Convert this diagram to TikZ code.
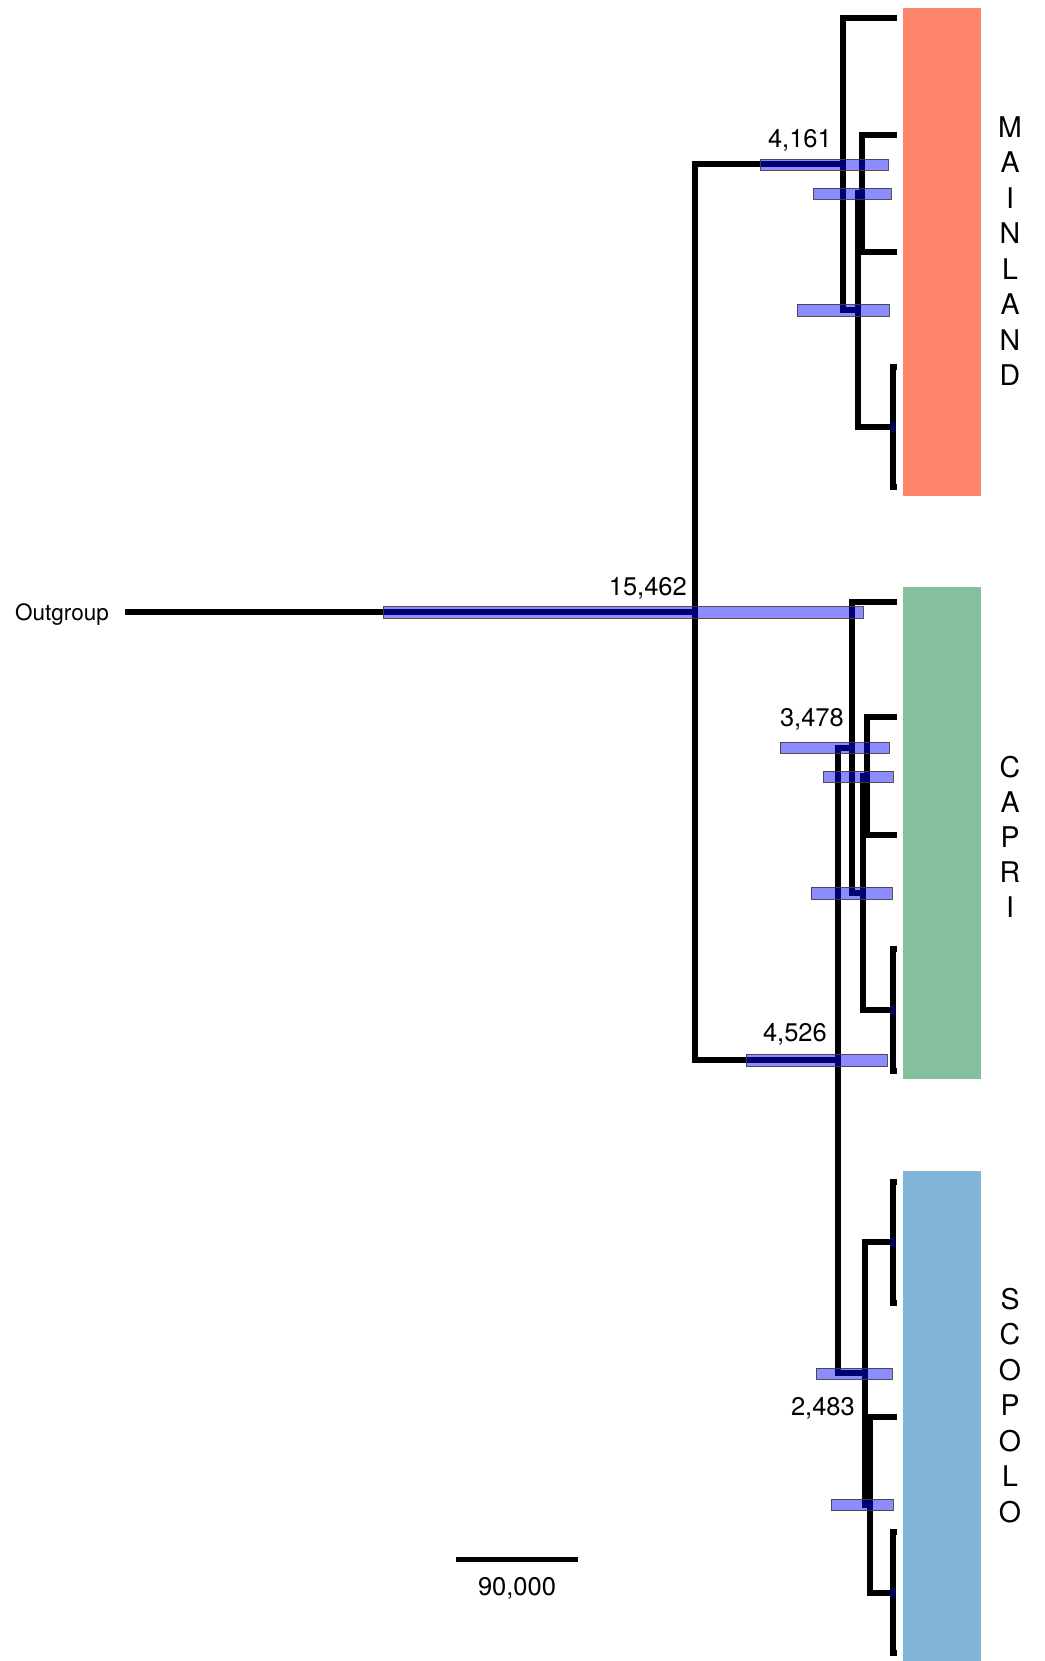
\documentclass[tikz,border=0pt]{standalone}
\usepackage{fontspec}
\setmainfont{TeX Gyre Heros}
\definecolor{mainfill}{RGB}{255,133,106}
\definecolor{caprifill}{RGB}{131,192,155}
\definecolor{scopfill}{RGB}{130,180,216}
\begin{document}
\begin{tikzpicture}[x=1pt,y=-1pt,
  branch/.style={line width=5.2pt, line join=miter, line cap=butt},
  hpd/.style={fill=blue, fill opacity=0.45, draw=black!75, draw opacity=0.9, line width=0.8pt},
  hpdtiny/.style={fill=blue, fill opacity=0.45},
  num/.style={font=\fontsize{25.5}{30}\selectfont, inner sep=0pt},
  clade/.style={font=\fontsize{28.5}{35.5}\selectfont, align=center, inner sep=0pt}]
\useasboundingbox (0,0) rectangle (1044,1661);

% clade colour bands
\fill[mainfill] (903,8) rectangle (981,496);
\fill[caprifill] (903,587) rectangle (981,1079);
\fill[scopfill] (903,1171) rectangle (981,1661);

% tree coordinates
\coordinate (root) at (695,612);
\coordinate (og) at (125,612);
% mainland
\coordinate (mN1) at (843,164);
\coordinate (mL1) at (897,18);
\coordinate (mN2) at (858,310);
\coordinate (mN3) at (862,193);
\coordinate (mL2) at (897,135);
\coordinate (mL3) at (897,252);
\coordinate (mN4) at (893,427);
\coordinate (mL4) at (897,367);
\coordinate (mL5) at (897,487);
% capri
\coordinate (cs) at (838,1060);
\coordinate (cN1) at (852,748);
\coordinate (cL1) at (897,602);
\coordinate (cN2) at (863,893);
\coordinate (cN3) at (867,776);
\coordinate (cL2) at (897,717);
\coordinate (cL3) at (897,835);
\coordinate (cN4) at (893,1010);
\coordinate (cL4) at (897,949);
\coordinate (cL5) at (897,1071);
% scopolo
\coordinate (sN1) at (865,1373);
\coordinate (sN2) at (893,1242);
\coordinate (sL1) at (897,1182);
\coordinate (sL2) at (897,1303);
\coordinate (sN3) at (870,1505);
\coordinate (sL3) at (897,1417);
\coordinate (sN4) at (893,1593);
\coordinate (sL4) at (897,1532);
\coordinate (sL5) at (897,1653);

% branches
\draw[branch] (og) -- (root);
\foreach \p/\c in {root/mN1, root/cs, mN1/mL1, mN1/mN2, mN2/mN3, mN2/mN4, mN3/mL2, mN3/mL3, mN4/mL4, mN4/mL5,
  cs/cN1, cs/sN1, cN1/cL1, cN1/cN2, cN2/cN3, cN2/cN4, cN3/cL2, cN3/cL3, cN4/cL4, cN4/cL5,
  sN1/sN2, sN1/sN3, sN2/sL1, sN2/sL2, sN3/sL3, sN3/sN4, sN4/sL4, sN4/sL5}
  \draw[branch] (\p) |- (\c);

% HPD bars
\path[hpd] (383,606.5) rectangle (863,618);
\path[hpd] (760,159) rectangle (888,170);
\path[hpd] (813,188) rectangle (891,199);
\path[hpd] (797,304) rectangle (889,316);
\path[hpd] (780,742) rectangle (889,753);
\path[hpd] (823,771) rectangle (893,782);
\path[hpd] (811,887) rectangle (892,899);
\path[hpd] (746,1054) rectangle (887,1066.5);
\path[hpd] (816,1368) rectangle (892,1379);
\path[hpd] (831,1499) rectangle (893,1510.5);
\foreach \n in {mN4,cN4,sN2,sN4}
  \path[hpdtiny] ([shift={(-2.5,-5)}]\n) rectangle ([shift={(2,5)}]\n);

% node labels
\node[num, anchor=base east] (l15462) at (687,595) {15,462};
\node[num, anchor=base east] (l4161) at (832,148) {4,161};
\node[num, anchor=base east] (l3478) at (844,726) {3,478};
\node[num, anchor=base east] (l4526) at (827,1041) {4,526};
\node[num, anchor=base east] (l2483) at (855,1415) {2,483};
\node[font=\fontsize{22.5}{26}\selectfont, anchor=base east, inner sep=0pt] (ogl) at (109,620) {Outgroup};

% clade labels
\node[clade] (mainl) at (1010,251) {M\\A\\I\\N\\L\\A\\N\\D};
\node[clade, font=\fontsize{28.5}{35}\selectfont] (capril) at (1010,836.7) {C\\A\\P\\R\\I};
\node[clade] (scopl) at (1010,1405.5) {S\\C\\O\\P\\O\\L\\O};

% scale bar
\coordinate (sb1) at (456,1559);
\coordinate (sb2) at (578,1559);
\draw[line width=5pt] (sb1) -- (sb2);
\node[num, anchor=base] (lsc) at (517,1595) {90,000};
\end{tikzpicture}
\end{document}
